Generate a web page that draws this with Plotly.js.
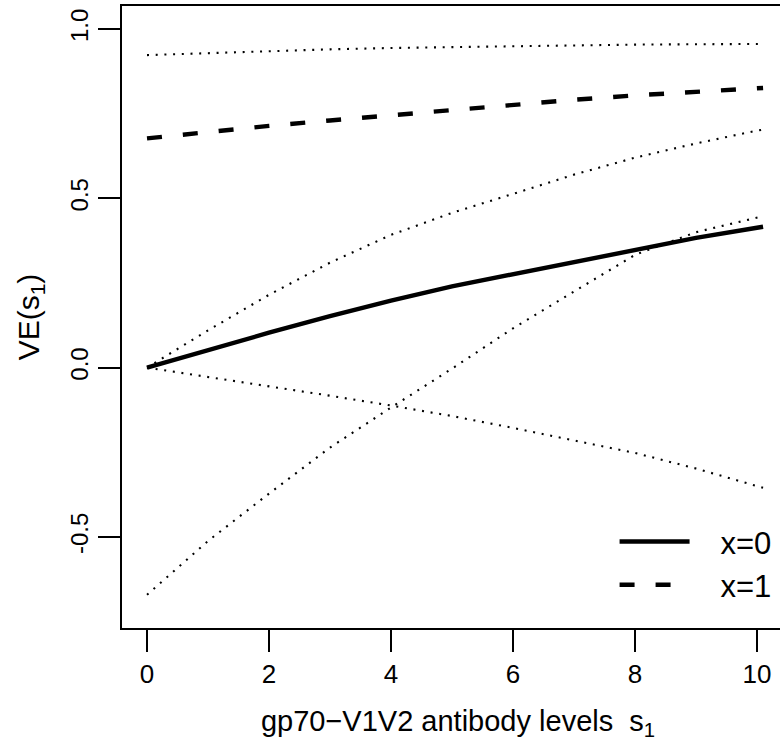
<!DOCTYPE html>
<html>
<head>
<meta charset="utf-8">
<script src="https://cdn.plot.ly/plotly-3.0.1.min.js"></script>
<style>
html,body{margin:0;padding:0;overflow:hidden;background:#fff;width:780px;height:741px;}
#plot{width:800px;height:741px;}
</style>
</head>
<body>
<div id="plot"></div>
<script>
// antibody level grid s1
var s1 = [0, 1, 2, 3, 4, 5, 6, 7, 8, 9, 10, 10.1];
// VE(s1) for x=0 and its pointwise bounds
var ve0      = [0, 0.053, 0.103, 0.152, 0.198, 0.240, 0.276, 0.314, 0.349, 0.383, 0.413, 0.416];
var ve0Upper = [0, 0.110, 0.215, 0.310, 0.392, 0.457, 0.513, 0.570, 0.620, 0.662, 0.700, 0.703];
var ve0Lower = [0, -0.027, -0.055, -0.083, -0.112, -0.143, -0.178, -0.214, -0.252, -0.298, -0.350, -0.355];
// VE(s1) for x=1 and its pointwise bounds
var ve1      = [0.677, 0.696, 0.714, 0.730, 0.746, 0.762, 0.777, 0.791, 0.804, 0.815, 0.825, 0.826];
var ve1Upper = [0.923, 0.929, 0.935, 0.940, 0.944, 0.947, 0.950, 0.952, 0.954, 0.955, 0.956, 0.956];
var ve1Lower = [-0.671, -0.512, -0.372, -0.236, -0.118, -0.003, 0.116, 0.225, 0.333, 0.400, 0.444, 0.447];
var legendNames = ["x=0", "x=1"];
var xTicks = [0, 2, 4, 6, 8, 10];
var yTicks = [-0.5, 0.0, 0.5, 1.0];
var yTickText = ["-0.5", "0.0", "0.5", "1.0"];

var dotStyle = {color: "#000", width: 2.1, dash: "2px,6.7px"};
function dotted(y) {
  return {x: s1, y: y, mode: "lines", line: dotStyle, showlegend: false, hoverinfo: "skip"};
}
var pad = "\u00a0\u00a0\u00a0";
var traces = [
  dotted(ve0Upper), dotted(ve0Lower), dotted(ve1Upper), dotted(ve1Lower),
  {x: s1, y: ve0, mode: "lines", name: pad + legendNames[0], line: {color: "#000", width: 4.4}},
  {x: s1, y: ve1, mode: "lines", name: pad + legendNames[1], line: {color: "#000", width: 4.4, dash: "15px,21px"}}
];

var fontFam = "Liberation Sans, Arial, Helvetica, sans-serif";
var layout = {
  width: 800, height: 741,
  margin: {l: 122, r: 6, t: 6, b: 113},
  paper_bgcolor: "#fff", plot_bgcolor: "#fff",
  font: {family: fontFam, color: "#000", size: 26},
  showlegend: true,
  legend: {x: 0.733, y: 0.182, xanchor: "left", yanchor: "top", bgcolor: "rgba(0,0,0,0)",
           font: {size: 31, family: fontFam}, tracegroupgap: 0, itemwidth: 70},
  xaxis: {
    range: [-0.41, 10.607], tickvals: xTicks, ticktext: xTicks.map(String),
    showgrid: false, zeroline: false, showline: true, mirror: true, linecolor: "#000", linewidth: 2,
    ticks: "outside", ticklen: 22, tickwidth: 2, tickcolor: "#000",
    tickfont: {size: 26},
    title: {text: "gp70\u2212V1V2 antibody levels  s<sub>1</sub>", font: {size: 29}, standoff: 28},
    automargin: false
  },
  yaxis: {
    range: [-0.769, 1.068], tickvals: yTicks, ticktext: yTickText, tickangle: -90,
    showgrid: false, zeroline: false, showline: true, mirror: true, linecolor: "#000", linewidth: 2,
    ticks: "outside", ticklen: 22, tickwidth: 2, tickcolor: "#000",
    tickfont: {size: 24},
    title: {text: "VE(s<sub>1</sub>)", font: {size: 30}, standoff: 18},
    automargin: false
  }
};
Plotly.newPlot("plot", traces, layout, {staticPlot: true, displayModeBar: false});
</script>
</body>
</html>
